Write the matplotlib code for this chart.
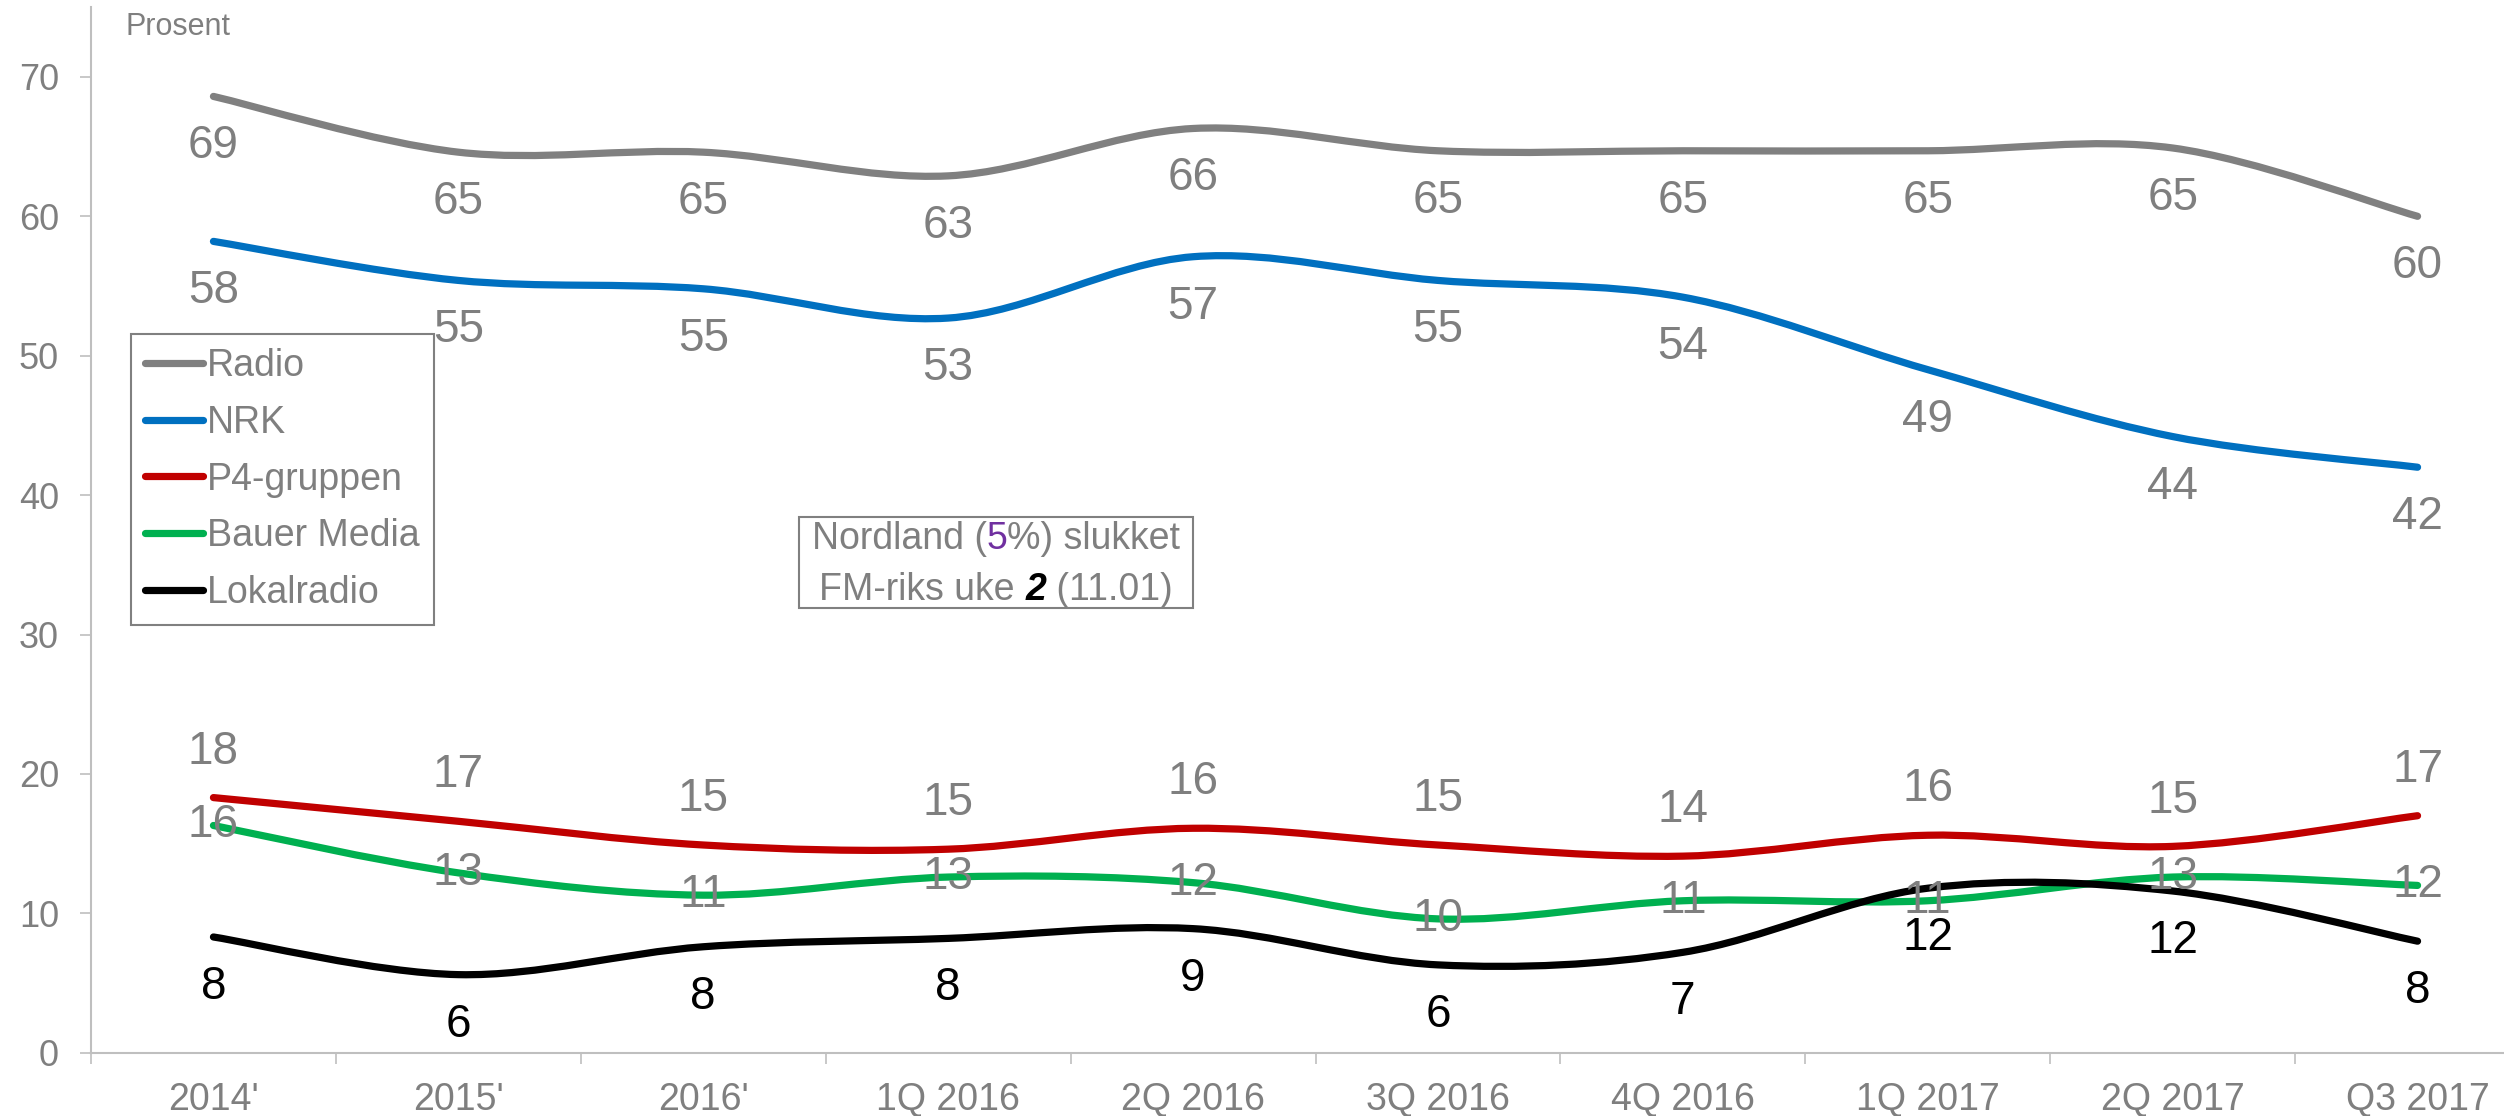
import matplotlib
matplotlib.use('Agg')
import matplotlib.pyplot as plt
import numpy as np
from matplotlib.path import Path
from matplotlib.patches import PathPatch, Rectangle
from matplotlib.lines import Line2D

plt.rcParams['font.family'] = ['Liberation Sans', 'DejaVu Sans']

# Data (percent)
periods = ["2014'", "2015'", "2016'", "1Q 2016", "2Q 2016", "3Q 2016",
           "4Q 2016", "1Q 2017", "2Q 2017", "Q3 2017"]
radio = [68.6, 64.6, 64.6, 62.9, 66.3, 64.7, 64.7, 64.7, 64.9, 60.0]
nrk = [58.2, 55.4, 54.8, 52.7, 57.1, 55.4, 54.2, 49.0, 44.2, 42.0]
p4 = [18.3, 16.6, 14.9, 14.6, 16.1, 14.9, 14.1, 15.6, 14.8, 17.0]
bauer = [16.3, 12.9, 11.3, 12.6, 12.2, 9.6, 10.9, 10.9, 12.6, 12.0]
lokal = [8.3, 5.6, 7.6, 8.2, 8.9, 6.3, 7.2, 11.8, 11.6, 8.0]

GREY = '#7f7f7f'
AXC = '#bfbfbf'
W, H = 2504, 1116


def smooth_path(ys):
    # Excel-like smoothed line: Catmull-Rom segments as cubic Bezier curves
    pts = np.column_stack([np.arange(len(ys)), ys]).astype(float)
    verts = [pts[0]]
    codes = [Path.MOVETO]
    n = len(pts)
    for i in range(n - 1):
        p0 = pts[max(i - 1, 0)]
        p1 = pts[i]
        p2 = pts[i + 1]
        p3 = pts[min(i + 2, n - 1)]
        verts += [p1 + (p2 - p0) / 6, p2 - (p3 - p1) / 6, p2]
        codes += [Path.CURVE4] * 3
    return Path(verts, codes)


fig = plt.figure(figsize=(W / 100, H / 100), dpi=100)
ax = fig.add_axes([91 / W, (H - 1052.7) / H, 2449 / W, 1045.5 / H])
ax.set_xlim(-0.5, 9.5)
ax.set_ylim(0, 75)

# (values, colour, label offset in points, label colour, name)
series = [
    (radio, '#808080', -36, GREY, 'Radio'),
    (nrk, '#0070c0', -36, GREY, 'NRK'),
    (p4, '#c00000', 33, GREY, 'P4-gruppen'),
    (bauer, '#00b050', 0, GREY, 'Bauer Media'),
    (lokal, '#000000', -36, 'black', 'Lokalradio'),
]

handles = []
for vals, col, off, lcol, name in series:
    ax.add_patch(PathPatch(smooth_path(vals), fill=False, edgecolor=col,
                           linewidth=5.2, capstyle='round', joinstyle='round',
                           zorder=3))
    handles.append(Line2D([], [], color=col, linewidth=5.2,
                          solid_capstyle='round', label=name))

for vals, col, off, lcol, name in series:
    for i, v in enumerate(vals):
        ax.annotate(f'{v:.0f}', (i, v), xytext=(0, off),
                    textcoords='offset points', ha='center', va='center',
                    fontsize=33, color=lcol, zorder=5)

# axes styling
for s in ['top', 'right']:
    ax.spines[s].set_visible(False)
for s in ['left', 'bottom']:
    ax.spines[s].set_color(AXC)
    ax.spines[s].set_linewidth(1.5)

ax.set_yticks(range(0, 71, 10))
ax.tick_params(axis='y', colors=AXC, labelcolor=GREY, labelsize=26,
               length=8, width=1.2, pad=15)
ax.set_xticks(range(len(periods)))
ax.set_xticklabels(periods)
ax.tick_params(axis='x', which='major', length=0, labelcolor=GREY,
               labelsize=27, pad=21)
ax.set_xticks(np.arange(-0.5, 10, 1), minor=True)
ax.tick_params(axis='x', which='minor', colors=AXC, length=8, width=1.2,
               direction='out')

fig.text(126 / W, 1 - 27 / H, 'Prosent', fontsize=22, color=GREY,
         ha='left', va='center')

leg = ax.legend(handles=handles, loc='upper left',
                bbox_to_anchor=(131 / W, 1 - 334 / H),
                bbox_transform=fig.transFigure, fontsize=27,
                labelcolor=GREY, handlelength=1.55, handletextpad=0.1,
                labelspacing=0.55, borderpad=0.38, borderaxespad=0,
                fancybox=False, edgecolor='#808080', framealpha=1)
leg.get_frame().set_linewidth(1.5)

# annotation box with mixed colours
fig.patches.append(Rectangle((799 / W, 1 - 608 / H), 394 / W, 91 / H,
                             transform=fig.transFigure, fill=False,
                             edgecolor='#808080', linewidth=1.5))


def chain(pieces, x, y):
    first = None
    prev = None
    for txt, col, weight, style in pieces:
        kw = dict(fontsize=27, color=col, fontweight=weight,
                  fontstyle=style, va='bottom', ha='left')
        if prev is None:
            prev = fig.text(x / W, 1 - y / H, txt, **kw)
            first = prev
        else:
            prev = ax.annotate(txt, xy=(1, 0), xycoords=prev, **kw)
    return first, prev


line1 = [('Nordland (', GREY, 'normal', 'normal'),
         ('5', '#7030a0', 'normal', 'normal'),
         ('%) slukket', GREY, 'normal', 'normal')]
line2 = [('FM-riks uke ', GREY, 'normal', 'normal'),
         ('2', 'black', 'bold', 'italic'),
         (' (11.01)', GREY, 'normal', 'normal')]
rows = [chain(line1, 996, 557), chain(line2, 996, 608)]

fig.canvas.draw()
r = fig.canvas.get_renderer()
for first, last in rows:
    x0 = first.get_window_extent(r).x0
    x1 = last.get_window_extent(r).x1
    px, py = first.get_position()
    first.set_position((px - (x1 - x0) / 2 / W, py))

fig.savefig('out.png', dpi=100)
